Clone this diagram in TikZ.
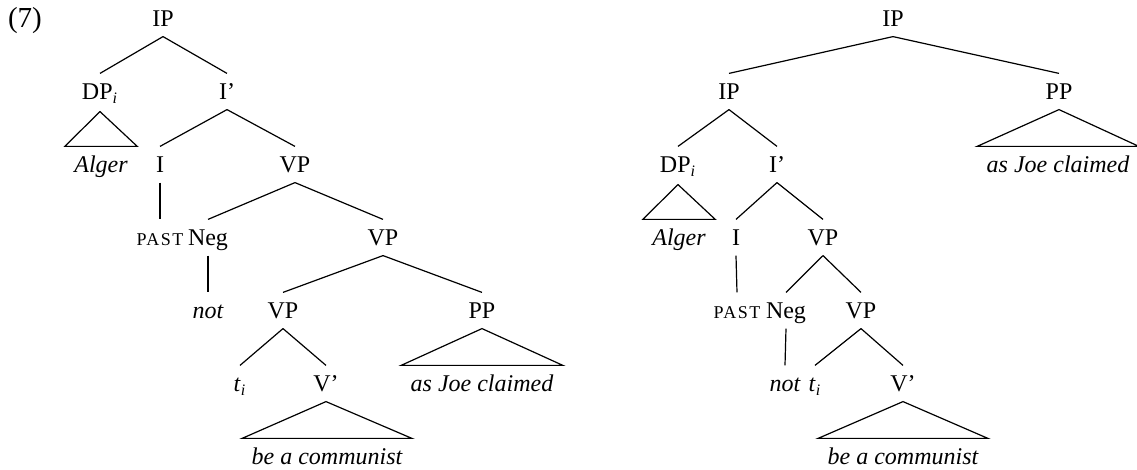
\documentclass[tikz,border=0pt]{standalone}
\usepackage{fontspec}
\setmainfont{Liberation Serif}
\usepackage{tikz}

\newcommand{\pastsc}{{\fontsize{9}{11}\selectfont\addfontfeatures{LetterSpace=8}PAST}}
\newcommand{\trc}{\textit{t}\textsubscript{\textit{i}}}
\newcommand{\dpi}{DP\textsubscript{\textit{i}}}

\begin{document}
\begin{tikzpicture}[x=0.5pt, y=-0.5pt, line width=0.6pt,
  font=\fontsize{12}{14}\selectfont,
  cat/.style={anchor=base, inner xsep=4.5pt, inner ysep=2pt,
    text height=11pt, text depth=2.5pt},
  subcat/.style={cat, text depth=3.5pt},
  leaf/.style={cat, font=\fontsize{12}{14}\selectfont\itshape}]

\useasboundingbox (0,0) rectangle (1137,470);

\node[anchor=base, font=\fontsize{14.5}{16}\selectfont] (ex) at (25,28) {(7)};

% left tree
\node[cat] (ipA) at (163,27) {IP};
\node[subcat] (dpA) at (100,100) {\dpi};
\node[cat] (ibarA) at (227,100) {I'};
\node[leaf] (algerA) at (101,173) {Alger};
\node[cat] (iA) at (160,173) {I};
\node[cat] (vpA) at (295,173) {VP};
\node[cat] (pastA) at (160,246) {\pastsc};
\node[cat] (negA) at (208,246) {Neg};
\node[cat] (vpB) at (383,246) {VP};
\node[leaf] (notA) at (208,319) {not};
\node[cat] (vpC) at (283,319) {VP};
\node[cat] (ppA) at (482,319) {PP};
\node[cat] (tA) at (240,392) {\trc};
\node[cat] (vbarA) at (326,392) {V'};
\node[leaf] (joeA) at (482,392) {as Joe claimed};
\node[leaf] (commA) at (327,465) {be a communist};

\draw (ipA.south) -- (dpA.north);
\draw (ipA.south) -- (ibarA.north);
\draw (dpA.south) -- (algerA.north west) -- (algerA.north east) -- cycle;
\draw (ibarA.south) -- (iA.north);
\draw (ibarA.south) -- (vpA.north);
\draw (iA.south) -- (pastA.north);
\draw (vpA.south) -- (negA.north);
\draw (vpA.south) -- (vpB.north);
\draw (negA.south) -- (notA.north);
\draw (vpB.south) -- (vpC.north);
\draw (vpB.south) -- (ppA.north);
\draw (vpC.south) -- (tA.north);
\draw (vpC.south) -- (vbarA.north);
\draw (ppA.south) -- (joeA.north west) -- (joeA.north east) -- cycle;
\draw (vbarA.south) -- (commA.north west) -- (commA.north east) -- cycle;

% right tree
\node[cat] (ipR) at (893,27) {IP};
\node[cat] (ipS) at (729,100) {IP};
\node[cat] (ppR) at (1059,100) {PP};
\node[subcat] (dpR) at (678,173) {\dpi};
\node[cat] (ibarR) at (777,173) {I'};
\node[leaf] (joeR) at (1058,173) {as Joe claimed};
\node[leaf] (algerR) at (679,246) {Alger};
\node[cat] (iR) at (736,246) {I};
\node[cat] (vpR) at (823,246) {VP};
\node[cat] (pastR) at (737,319) {\pastsc};
\node[cat] (negR) at (786,319) {Neg};
\node[cat] (vpS) at (861,319) {VP};
\node[leaf] (notR) at (785,392) {not};
\node[cat] (tR) at (815,392) {\trc};
\node[cat] (vbarR) at (903,392) {V'};
\node[leaf] (commR) at (903,465) {be a communist};

\draw (ipR.south) -- (ipS.north);
\draw (ipR.south) -- (ppR.north);
\draw (ipS.south) -- (dpR.north);
\draw (ipS.south) -- (ibarR.north);
\draw (ppR.south) -- (joeR.north west) -- (joeR.north east) -- cycle;
\draw (dpR.south) -- (algerR.north west) -- (algerR.north east) -- cycle;
\draw (ibarR.south) -- (iR.north);
\draw (ibarR.south) -- (vpR.north);
\draw (iR.south) -- (pastR.north);
\draw (vpR.south) -- (negR.north);
\draw (vpR.south) -- (vpS.north);
\draw (negR.south) -- (notR.north);
\draw (vpS.south) -- (tR.north);
\draw (vpS.south) -- (vbarR.north);
\draw (vbarR.south) -- (commR.north west) -- (commR.north east) -- cycle;

\end{tikzpicture}
\end{document}
